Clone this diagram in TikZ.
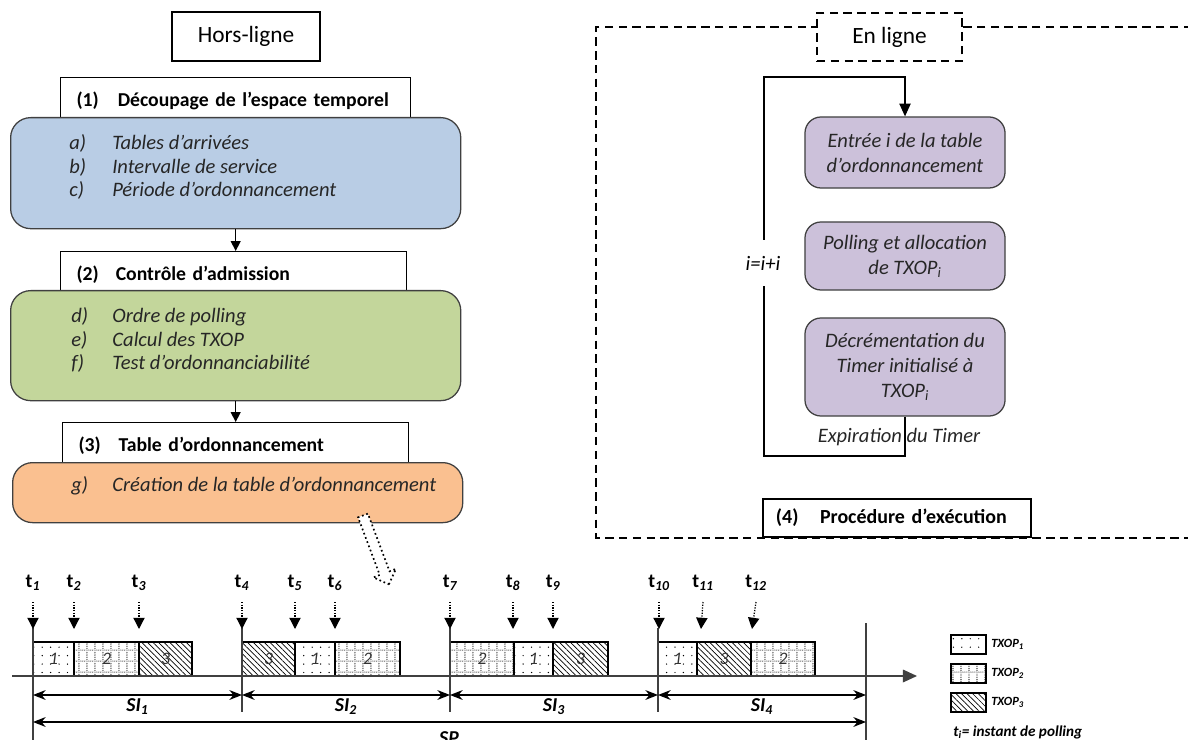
\documentclass[tikz,border=0pt]{standalone}
\usepackage{fontspec}
\setmainfont{Carlito}
\usetikzlibrary{arrows.meta,patterns.meta,shapes.arrows,positioning}

\definecolor{bleu}{HTML}{B9CDE5}
\definecolor{vert}{HTML}{C3D69B}
\definecolor{orange}{HTML}{FAC090}
\definecolor{mauve}{HTML}{CCC1DA}

% 点格纹
\tikzdeclarepattern{
  name=dotgrid,
  type=uncolored,
  bounding box={(0pt,0pt) and (5.6pt,8pt)},
  tile size={(5.6pt,8pt)},
  code={
    \foreach \k in {0,1,2,3}
      \fill ({\k*1.4pt+0.7pt},0.7pt) circle (0.4pt);
    \foreach \k in {1,...,5}
      \fill (0.7pt,{\k*1.33pt+0.7pt}) circle (0.4pt);
  }
}

\begin{document}
\begin{tikzpicture}[x=0.025cm,y=-0.025cm,>={Triangle[width=7pt,length=7pt]},
  titre/.style={draw,line width=1.2pt,minimum width=3.7cm,minimum height=1.225cm,font=\fontsize{16.6}{19}\selectfont},
  entete/.style={draw,line width=0.8pt,fill=white,minimum height=1.15cm,inner xsep=0.4cm,align=left,font=\fontsize{14}{16}\selectfont\bfseries},
  bloc/.style={draw=black!75,line width=0.9pt,rounded corners=0.5cm,minimum width=11.25cm},
  liste/.style={align=left,inner sep=0pt,text=black!85,font=\fontsize{14.6}{17}\selectfont\itshape},
  etape/.style={draw=black!75,line width=0.9pt,rounded corners=0.4cm,fill=mauve,minimum width=5cm,align=center,text=black!85,font=\fontsize{14.6}{17.8}\selectfont\itshape},
  cadre/.style={line width=1pt,dash pattern=on 6pt off 3.8pt},
  tlab/.style={inner sep=0pt,font=\fontsize{14}{16}\selectfont\bfseries},
  poll/.style={densely dotted,line width=0.9pt,-{Triangle[width=8pt,length=8pt]}},
  sep/.style={line width=0.9pt,black!75},
  tx1/.style={draw,line width=0.8pt,pattern={Dots[distance=6pt,radius=0.5pt]}},
  tx2/.style={draw,line width=0.8pt,pattern=dotgrid},
  tx3/.style={draw,line width=0.8pt,pattern={Lines[angle=-45,distance=2.8pt,line width=0.5pt]}},
  num/.style={inner sep=0pt,text=black!80,font=\fontsize{12.5}{14}\selectfont\itshape},
  si/.style={line width=0.9pt,{Stealth[width=7pt,length=9pt]}-{Stealth[width=7pt,length=9pt]}},
  silab/.style={font=\fontsize{14}{16}\selectfont\bfseries\itshape},
  leglab/.style={anchor=west,inner sep=0pt,font=\fontsize{8.9}{10}\selectfont\bfseries\itshape}]
  \useasboundingbox (0,0) rectangle (1188,740);

  % 离线部分
  \node[titre] (hors) at (246,36.5) {Hors-ligne};
  \node[entete,anchor=north west,text width=7.95cm] (h1) at (60,77)
    {\makebox[1.03cm][l]{(1)}Découpage de l’espace temporel};
  \node[bloc,fill=bleu,anchor=north west,minimum height=2.775cm] (b1) at (10,117) {};
  \node[liste,anchor=west] (l1) at (69,167)
    {\makebox[1.075cm][l]{a)}Tables d’arrivées\\
     \makebox[1.075cm][l]{b)}Intervalle de service\\
     \makebox[1.075cm][l]{c)}Période d’ordonnancement};
  \node[entete,anchor=north west,text width=7.85cm] (h2) at (60,251)
    {\makebox[0.98cm][l]{(2)}Contrôle d’admission};
  \node[bloc,fill=vert,anchor=north west,minimum height=2.75cm] (b2) at (10,290) {};
  \node[liste,anchor=west] (l2) at (71,340)
    {\makebox[1.03cm][l]{d)}Ordre de polling\\
     \makebox[1.03cm][l]{e)}Calcul des TXOP\\
     \makebox[1.03cm][l]{f)}Test d’ordonnanciabilité};
  \node[entete,anchor=north west,text width=7.85cm] (h3) at (62,422)
    {\makebox[1cm][l]{(3)}Table d’ordonnancement};
  \node[bloc,fill=orange,anchor=north west,minimum height=1.5cm] (b3) at (12,462) {};
  \node[liste,anchor=west] (l3) at (71,486)
    {\makebox[1.03cm][l]{g)}Création de la table d’ordonnancement};
  \draw[->,line width=0.8pt] (b1.south) -- (b1.south |- h2.north);
  \draw[->,line width=0.8pt] (b2.south) -- (b2.south |- h3.north);
  \node[single arrow,draw,fill=white,dotted,line width=1.2pt,minimum height=1.84cm,
    inner sep=0.11cm,single arrow head extend=0.17cm,rotate=-69.4] (renvoi) at (375,547.5) {};

  % 在线部分
  \draw[cadre] (1192,27) -- (596,27) -- (596,538) -- (1192,538);
  \node[titre,cadre,fill=white,minimum width=3.625cm,minimum height=1.2cm] (en) at (889.5,37) {En ligne};
  \node[etape,minimum height=1.775cm] (entree) at (905,152.5)
    {Entrée i de la table\\d’ordonnancement};
  \node[etape,minimum height=1.7cm] (poll) at (905,256)
    {Polling et allocation\\de TXOP\textsubscript{i}};
  \node[etape,minimum height=2.45cm] (dec) at (905,367)
    {Décrémentation du\\Timer initialisé à\\TXOP\textsubscript{i}};
  \draw[->,line width=0.8pt,>={Triangle[width=8pt,length=9pt]}] (dec.south) |- (764,456) |- (905,77) -- (entree.north);
  \node[fill=white,inner xsep=1pt,inner ysep=0.4cm,font=\fontsize{14.6}{17}\selectfont\itshape] (incr) at (763,263) {i=i+i};
  \node[font=\fontsize{14.6}{17}\selectfont\itshape,text=black!85] (expir) at (899,437) {Expiration du Timer};
  \node[draw,fill=white,line width=1.2pt,minimum width=6.7cm,minimum height=0.95cm,inner xsep=0.325cm,
    text width=6.05cm,align=left,font=\fontsize{14.2}{16}\selectfont\bfseries] (proc) at (897,518)
    {\makebox[1.1cm][l]{(4)}Procédure d’exécution};

  % 时间轴
  \foreach \a/\b/\k [count=\j] in {33/74/1,74/139/2,139/192/3,242/295/3,295/335/1,335/400/2,
      450/514/2,514/553/1,553/608/3,658/697/1,697/751/3,751/815/2}{
    \draw[tx\k] (\a,642) rectangle (\b,676);
    \node[num] (blk\j) at ({(\a+\b)/2},659) {\k};
  }
  \draw[line width=0.9pt,black!75,-{Triangle[width=9pt,length=10pt]}] (12,676) -- (917,676);
  \draw[sep] (33,628) -- (33,740);
  \foreach \x in {242,450,658}
    \draw[sep] (\x,628) -- (\x,712);
  \draw[sep] (866,623) -- (866,740);
  \foreach \x/\d/\n in {33/0/1,74/0/2,139/0/3,242/0/4,295/0/5,335/0/6,
      450/0/7,513/0/8,553/0/9,659/0/10,701/2/11,752/4/12}{
    \node[tlab] (t\n) at (\x+\d,583) {t\textsubscript{\itshape\n}};
    \coordinate (p\n) at (\x,629);
    \draw[poll] (t\n.south) ++(0,11) -- (p\n);
  }
  \foreach \a/\b/\n in {33/242/1,242/450/2,450/658/3,658/866/4}
    \draw[si] (\a,695) -- (\b,695) node[midway,below,silab,inner sep=2pt] (si\n) {SI\textsubscript{\n}};
  \draw[si] (33,722) -- (866,722);
  \node[silab] (sp) at (449,738) {SP};

  % 图例
  \foreach \k/\y in {1/635,2/664,3/693}{
    \draw[tx\k,line width=1.1pt] (951,\y) rectangle (986,\y+19);
    \node[leglab] (leg\k) at (991,\y+9.5) {TXOP\textsubscript{\k}};
  }
  \node[leglab,font=\fontsize{10.8}{12}\selectfont\bfseries\itshape] (inst) at (953,732)
    {t\textsubscript{i}= instant de polling};
\end{tikzpicture}
\end{document}
